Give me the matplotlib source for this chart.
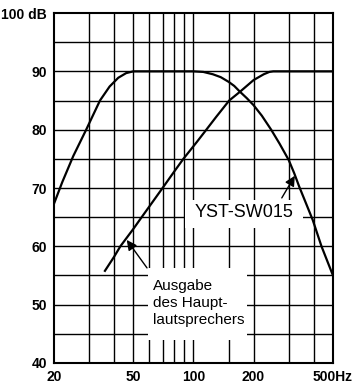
import matplotlib.pyplot as plt
from matplotlib.patches import Rectangle

# Frequenzgang Subwoofer / Hauptlautsprecher
sub_freq = [20, 22, 25, 29, 34, 38, 42, 46, 50, 100, 112, 125, 137, 150, 160, 171,
            185, 200, 220, 245, 270, 300, 320, 339, 365, 396, 438, 500]
sub_db = [67.3, 71.0, 75.5, 80.0, 85.0, 87.4, 88.9, 89.7, 90.0, 90.0, 89.9, 89.5,
          89.0, 88.2, 87.5, 86.5, 85.4, 84.2, 82.4, 80.0, 77.6, 74.8, 72.5, 70.2,
          67.5, 64.5, 60.0, 55.0]

main_freq = [36, 40, 43, 50, 55, 60, 70, 80, 89, 104, 116, 130, 151, 171, 200, 225,
             240, 251, 500]
main_db = [55.8, 58.2, 60.0, 63.0, 65.0, 66.8, 70.0, 72.8, 75.0, 77.9, 80.0, 82.2, 85.0,
           86.5, 88.5, 89.5, 89.9, 90.0, 90.0]

x_ticks = [20, 50, 100, 200, 500]
x_labels = ["20", "50", "100", "200", "500Hz"]
x_grid = [30, 40, 60, 70, 80, 90, 150, 300, 400]
y_ticks = [40, 50, 60, 70, 80, 90, 100]
y_labels = ["40", "50", "60", "70", "80", "90", "100 dB"]
y_grid = [45, 55, 65, 75, 85, 95]

fig = plt.figure(figsize=(3.58, 3.86), dpi=100)
ax = fig.add_axes([0.1508, 0.0596, 0.7793, 0.9067])
ax.set_xscale("log")
ax.set_xlim(20, 500)
ax.set_ylim(40, 100)

# Raster
for f in x_ticks[1:-1] + x_grid:
    ax.axvline(f, color="black", lw=1.0, zorder=1)
for db in y_ticks[1:-1] + y_grid:
    ax.axhline(db, color="black", lw=1.0, zorder=1)

ax.set_xticks(x_ticks)
ax.set_xticklabels(x_labels)
ax.set_xticks([], minor=True)
ax.set_yticks(y_ticks)
ax.set_yticklabels(y_labels)
ax.tick_params(length=0, pad=5)
for lab in ax.get_xticklabels() + ax.get_yticklabels():
    lab.set_family("Liberation Sans")
    lab.set_fontweight("bold")
    lab.set_fontsize(10)
for s in ax.spines.values():
    s.set_linewidth(1.5)

# weisse Felder hinter den Beschriftungen
ax.add_patch(Rectangle((0.4695, 0.3857), 0.423, 0.08, transform=ax.transAxes,
                       facecolor="white", edgecolor="none", zorder=2))
ax.add_patch(Rectangle((0.337, 0.0657), 0.355, 0.2057, transform=ax.transAxes,
                       facecolor="white", edgecolor="none", zorder=2))

ax.plot(sub_freq, sub_db, color="black", lw=1.6, zorder=3)
ax.plot(main_freq, main_db, color="black", lw=1.6, zorder=3)

arrow = dict(arrowstyle="-|>,head_length=0.6,head_width=0.3", color="black",
             lw=1.0, shrinkA=0, shrinkB=0)
ax.annotate("", xy=(322, 72.1), xytext=(277, 68.3), arrowprops=arrow, zorder=4)
ax.annotate("", xy=(46.3, 61.1), xytext=(58.5, 56.3), arrowprops=arrow, zorder=4)

ax.text(0.681, 0.4286, "YST-SW015", transform=ax.transAxes, ha="center", va="center",
        fontsize=13, family="Liberation Sans", zorder=4)
ax.text(0.355, 0.171, "Ausgabe\ndes Haupt-\nlautsprechers", transform=ax.transAxes,
        ha="left", va="center", fontsize=11, linespacing=1.3,
        family="Liberation Sans", zorder=4)

plt.savefig("out.png", dpi=100)
